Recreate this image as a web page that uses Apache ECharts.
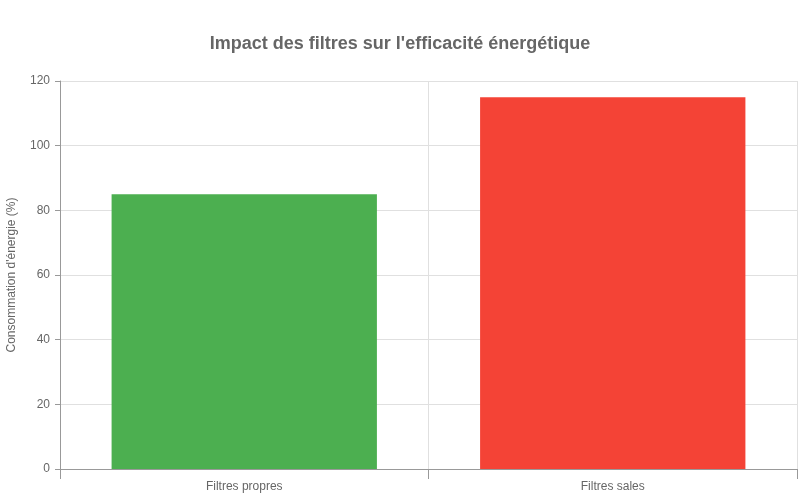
<!DOCTYPE html>
<html>
<head>
<meta charset="utf-8">
<script src="https://cdn.jsdelivr.net/npm/echarts@6/dist/echarts.min.js"></script>
<style>
  html, body { margin: 0; padding: 0; background: #fff; }
  #main { width: 800px; height: 500px; }
</style>
</head>
<body>
<div id="main"></div>
<script>
var categories = ['Filtres propres', 'Filtres sales'];
var consommation = [85, 115];
var barColors = ['#4CAF50', '#F44336'];

var myChart = echarts.init(document.getElementById('main'));
myChart.setOption({
  animation: false,
  textStyle: { fontFamily: 'Liberation Sans, Arial, sans-serif' },
  title: {
    text: "Impact des filtres sur l'efficacité énergétique",
    left: 'center',
    top: 30,
    textStyle: { fontSize: 18, fontWeight: 'bold', color: '#666' }
  },
  grid: { left: 60, right: 3, top: 81, bottom: 31, containLabel: false, outerBoundsMode: 'none' },
  xAxis: {
    type: 'category',
    data: categories,
    axisLine: { show: true, lineStyle: { color: '#999' } },
    axisTick: { show: true, length: 10, lineStyle: { color: '#999' } },
    axisLabel: { color: '#666', fontSize: 12, margin: 12 },
    splitLine: { show: true, lineStyle: { color: '#e0e0e0' } }
  },
  yAxis: {
    type: 'value',
    min: 0,
    max: 120,
    interval: 20,
    name: "Consommation d'énergie (%)",
    nameLocation: 'middle',
    nameGap: 42,
    nameTextStyle: { color: '#666', fontSize: 12 },
    axisLine: { show: true, lineStyle: { color: '#999' } },
    axisTick: { show: true, length: 5, lineStyle: { color: '#999' } },
    axisLabel: { color: '#666', fontSize: 12, margin: 10 },
    splitLine: { show: true, lineStyle: { color: '#e0e0e0' } }
  },
  series: [{
    type: 'bar',
    data: consommation.map(function (v, i) {
      return { value: v, itemStyle: { color: barColors[i] } };
    }),
    barCategoryGap: '28%'
  }]
});
</script>
</body>
</html>
